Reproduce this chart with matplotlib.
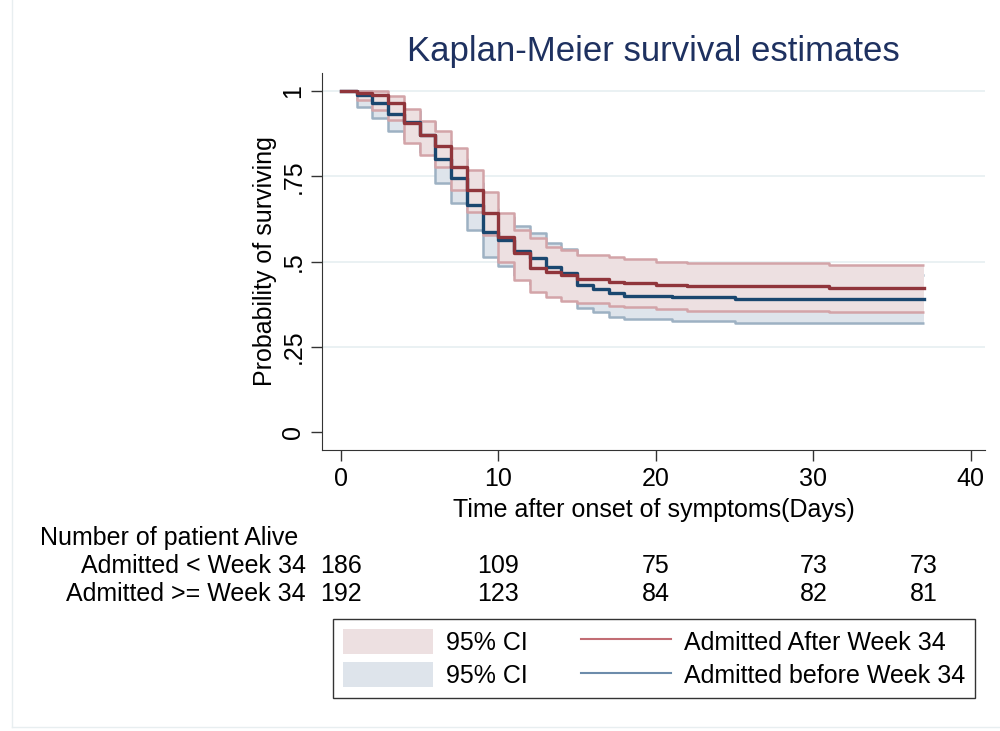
import numpy as np
import matplotlib
matplotlib.use("Agg")
import matplotlib.pyplot as plt
from matplotlib.patches import Patch
from matplotlib.lines import Line2D
from matplotlib.transforms import blended_transform_factory

plt.rcParams['font.family'] = ['Liberation Sans', 'DejaVu Sans']

# Kaplan-Meier step estimates
red_t = [0, 1, 2, 3, 4, 5, 6, 7, 8, 9, 10, 11, 12, 13, 14, 15, 17, 18, 20, 22, 31, 37]
red_s = [1.0, 0.995, 0.99, 0.964, 0.905, 0.871, 0.838, 0.778, 0.710, 0.641, 0.573,
         0.524, 0.480, 0.470, 0.460, 0.448, 0.441, 0.436, 0.431, 0.428, 0.421, 0.421]
red_lo = [1.0, 0.975, 0.945, 0.915, 0.848, 0.813, 0.778, 0.710, 0.645, 0.578, 0.500,
          0.446, 0.410, 0.395, 0.385, 0.377, 0.370, 0.366, 0.360, 0.356, 0.351, 0.351]
red_hi = [1.0, 1.0, 1.0, 0.987, 0.948, 0.912, 0.884, 0.832, 0.769, 0.705, 0.641,
          0.592, 0.568, 0.543, 0.534, 0.519, 0.512, 0.506, 0.499, 0.495, 0.490, 0.490]

blue_t = [0, 1, 2, 3, 4, 5, 6, 7, 8, 9, 10, 11, 12, 13, 14, 15, 16, 17, 18, 21, 25, 37]
blue_s = [1.0, 0.988, 0.966, 0.932, 0.910, 0.872, 0.800, 0.744, 0.666, 0.586, 0.563,
          0.531, 0.509, 0.485, 0.467, 0.431, 0.419, 0.408, 0.400, 0.396, 0.391, 0.391]
blue_lo = [1.0, 0.954, 0.920, 0.884, 0.860, 0.820, 0.729, 0.671, 0.592, 0.512, 0.487,
           0.460, 0.435, 0.410, 0.395, 0.365, 0.353, 0.338, 0.330, 0.326, 0.321, 0.321]
blue_hi = [1.0, 1.0, 0.99, 0.965, 0.942, 0.910, 0.855, 0.800, 0.730, 0.655, 0.630,
           0.604, 0.583, 0.554, 0.536, 0.500, 0.490, 0.478, 0.471, 0.466, 0.460, 0.460]

# number at risk table
risk_times = [0, 10, 20, 30, 37]
risk_rows = ["Admitted < Week 34", "Admitted >= Week 34"]
risk_before = [186, 109, 75, 73, 73]
risk_after = [192, 123, 84, 82, 81]

RED, BLUE = "#90353b", "#1a476f"
RED_FILL, BLUE_FILL = "#ede0e1", "#dee4eb"
RED_EDGE, BLUE_EDGE = "#d3a4a8", "#9db1c3"
FS = 18

fig = plt.figure(figsize=(10, 7.31), dpi=100)
ax = fig.add_axes([0.322, 0.3844, 0.663, 0.5157])

for gy in [0.25, 0.5, 0.75, 1.0]:
    ax.axhline(gy, color="#e6eff1", lw=1.2, zorder=0)

# CI bands: blue first, red on top
z = 1
for t, lo, hi, fc, ec in [(blue_t, blue_lo, blue_hi, BLUE_FILL, BLUE_EDGE),
                          (red_t, red_lo, red_hi, RED_FILL, RED_EDGE)]:
    ax.fill_between(t, lo, hi, step="post", color=fc, lw=0, zorder=z)
    for edge in (lo, hi):
        ax.step(t, edge, where="post", color=ec, lw=1.8, zorder=z + 0.5,
                solid_capstyle="butt")
    z += 1

ax.step(blue_t, blue_s, where="post", color=BLUE, lw=2.4, zorder=4)
ax.step(red_t, red_s, where="post", color=RED, lw=2.4, zorder=5)

ax.set_xlim(-1.2, 40.9)
ax.set_ylim(-0.053, 1.053)
ax.set_xticks([0, 10, 20, 30, 40])
ax.set_yticks([0, 0.25, 0.5, 0.75, 1])
ax.set_yticklabels(["0", ".25", ".5", ".75", "1"], rotation=90, va="center")
ax.tick_params(labelsize=FS, length=8, width=1, color="#333333", pad=4)
for s in ["top", "right"]:
    ax.spines[s].set_visible(False)
for s in ["left", "bottom"]:
    ax.spines[s].set_color("#333333")
ax.set_xlabel("Time after onset of symptoms(Days)", fontsize=FS, labelpad=5)
ax.set_ylabel("Probability of surviving", fontsize=FS, labelpad=3)
fig.text(0.6535, 0.930, "Kaplan-Meier survival estimates", ha="center", va="center",
         fontsize=25, color="#1e3160")

# at-risk table
tr = blended_transform_factory(ax.transData, fig.transFigure)
fig.text(0.04, 1 - 538 / 731, "Number of patient Alive", fontsize=FS, va="center")
for row, vals, yy in [(risk_rows[0], risk_before, 566), (risk_rows[1], risk_after, 594)]:
    yf = 1 - yy / 731
    fig.text(0.306, yf, row, fontsize=FS, ha="right", va="center")
    for t, v in zip(risk_times, vals):
        ax.text(t, yf, str(v), transform=tr, fontsize=FS, ha="center", va="center")

handles = [Patch(facecolor=RED_FILL, edgecolor="none"),
           Patch(facecolor=BLUE_FILL, edgecolor="none"),
           Line2D([], [], color="#c26d74", lw=1.5),
           Line2D([], [], color="#6d8cab", lw=1.5)]
labels = ["95% CI", "95% CI", "Admitted After Week 34", "Admitted before Week 34"]
leg = fig.legend(handles, labels, ncol=2, loc="center", mode="expand",
                 bbox_to_anchor=(0.333, 1 - 700 / 731, 0.642, 83 / 731),
                 fontsize=FS, handlelength=3.6, handleheight=1.15, handletextpad=0.5,
                 labelspacing=0.3, borderaxespad=0, borderpad=0.4,
                 fancybox=False, framealpha=1)
leg.get_frame().set_edgecolor("#333333")
leg.get_frame().set_linewidth(1)

# faint outer region border
fig.add_artist(Line2D([0.012, 0.012], [0.005, 1], transform=fig.transFigure, color="#e8eef0", lw=1))
fig.add_artist(Line2D([0.012, 1], [0.005, 0.005], transform=fig.transFigure, color="#e8eef0", lw=1))

fig.savefig("out.png", dpi=100)
